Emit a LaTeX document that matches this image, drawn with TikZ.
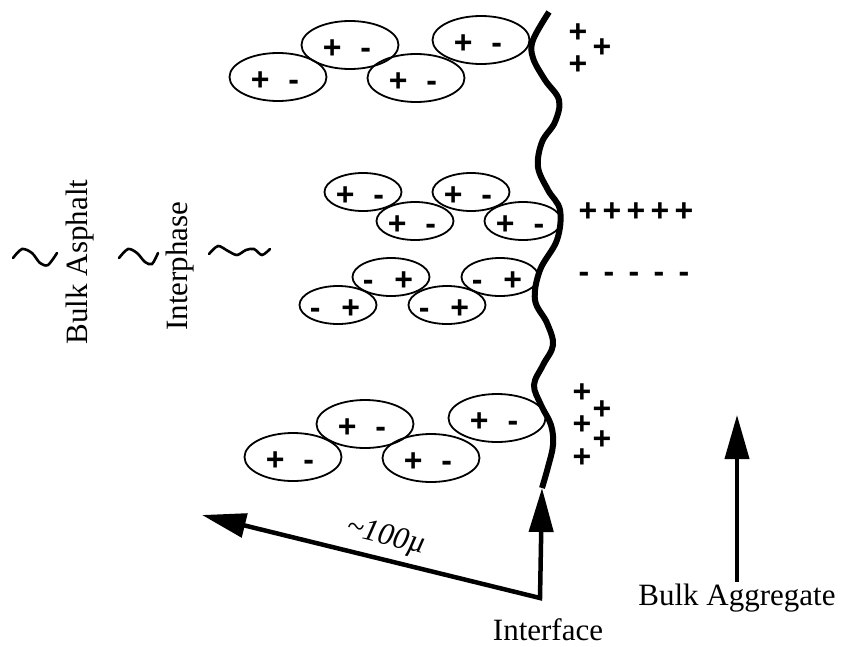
\documentclass[tikz,border=0pt]{standalone}
\usepackage{fontspec}
\setmainfont{Liberation Serif}
\newfontfamily\signfont{Liberation Sans}
\usetikzlibrary{arrows.meta, shapes.geometric}
\newcommand{\bigArrow}{{Triangle[length=44pt, width=24pt]}}
\newcommand{\pn}{+\hspace{19pt}-}
\newcommand{\np}{-\hspace{21pt}+}

\begin{document}
\begin{tikzpicture}[x=1pt, y=-1pt, font=\fontsize{31}{36}\selectfont,
	sign/.style={font=\signfont\bfseries\fontsize{32}{32}\selectfont, inner sep=0pt},
	dipole/.style={draw, ellipse, line width=1.8pt, inner sep=0pt,
		label={[sign, xshift=-3pt, yshift=-4pt]center:#1}},
	bigmol/.style={dipole={#1}, minimum width=97pt, minimum height=48pt},
	smallmol/.style={dipole={#1}, minimum width=77pt, minimum height=38pt},
	wave/.style={line width=2.6pt, line cap=round}]
	\useasboundingbox (0,0) rectangle (845,646);

	% upper layer
	\node[bigmol=\pn] (u1) at (278,77) {};
	\node[bigmol=\pn] (u2) at (350,45) {};
	\node[bigmol=\pn] (u3) at (416,78) {};
	\node[bigmol=\pn] (u4) at (481,40) {};
	\node[sign] (s1) at (578,33) {+};
	\node[sign] (s2) at (602,48) {+};
	\node[sign] (s3) at (578,65) {+};

	% middle layers
	\node[smallmol=\pn] (a1) at (363,192) {};
	\node[smallmol=\pn] (a2) at (415,221) {};
	\node[smallmol=\pn] (a3) at (471,192) {};
	\node[smallmol=\pn] (a4) at (523,221) {};
	\node[smallmol=\np] (b1) at (391,277) {};
	\node[smallmol=\np] (b2) at (338,305) {};
	\node[smallmol=\np] (b3) at (447,305) {};
	\node[smallmol=\np] (b4) at (500,277) {};
	\foreach \i in {0,...,4} {
		\node[sign] (pos\i) at (588+24*\i,212) {+};
		\node[sign] (neg\i) at (584+25*\i,277) {-};
	}

	% lower layer
	\node[bigmol=\pn] (l1) at (293,457) {};
	\node[bigmol=\pn] (l2) at (365,424) {};
	\node[bigmol=\pn] (l3) at (431,458) {};
	\node[bigmol=\pn] (l4) at (497,418) {};
	\node[sign] (t1) at (582,393) {+};
	\node[sign] (t2) at (602,410) {+};
	\node[sign] (t3) at (582,425) {+};
	\node[sign] (t4) at (602,440) {+};
	\node[sign] (t5) at (582,458) {+};

	% aggregate surface
	\draw[line width=6pt] plot[smooth, tension=0.6] coordinates {(549,12) (533,40) (533,58) (545,80)
		(559,100) (555,122) (542,142) (538,167) (548,190) (560,210) (557,240) (540,270) (535,300)
		(547,323) (553,345) (543,365) (534,385) (541,405) (551,425) (553,445) (548,467) (542,488)};

	% zones
	\node[rotate=90] (asph) at (80,262) {Bulk Asphalt};
	\node[rotate=90] (inter) at (180,266) {Interphase};
	\draw[wave] plot[smooth] coordinates {(13,258) (22,249) (32,253) (40,263) (48,265) (57,253)};
	\draw[wave] plot[smooth] coordinates {(119,258) (128,249) (137,253) (145,262) (152,264) (158,253)};
	\draw[wave] plot[smooth] coordinates {(209,254) (218,246) (228,251) (237,255) (246,250) (254,249)
		(262,255) (270,249)};

	% scale arrows
	\coordinate (wtip) at (202,515);
	\coordinate (corner) at (540,598);
	\coordinate (iface) at (542,488);
	\draw[line width=4.5pt, \bigArrow-\bigArrow] (wtip) -- node[pos=0.53, sloped, above, inner sep=6pt]
		{\textit{\textasciitilde 100µ}} (corner) -- (iface);
	\node (itext) at (548,630) {Interface};

	\node[inner sep=2pt] (ba) at (737,598) {Bulk Aggregate};
	\coordinate (batip) at (737,415);
	\draw[line width=4pt, -\bigArrow] (ba) -- (batip);
\end{tikzpicture}
\end{document}
